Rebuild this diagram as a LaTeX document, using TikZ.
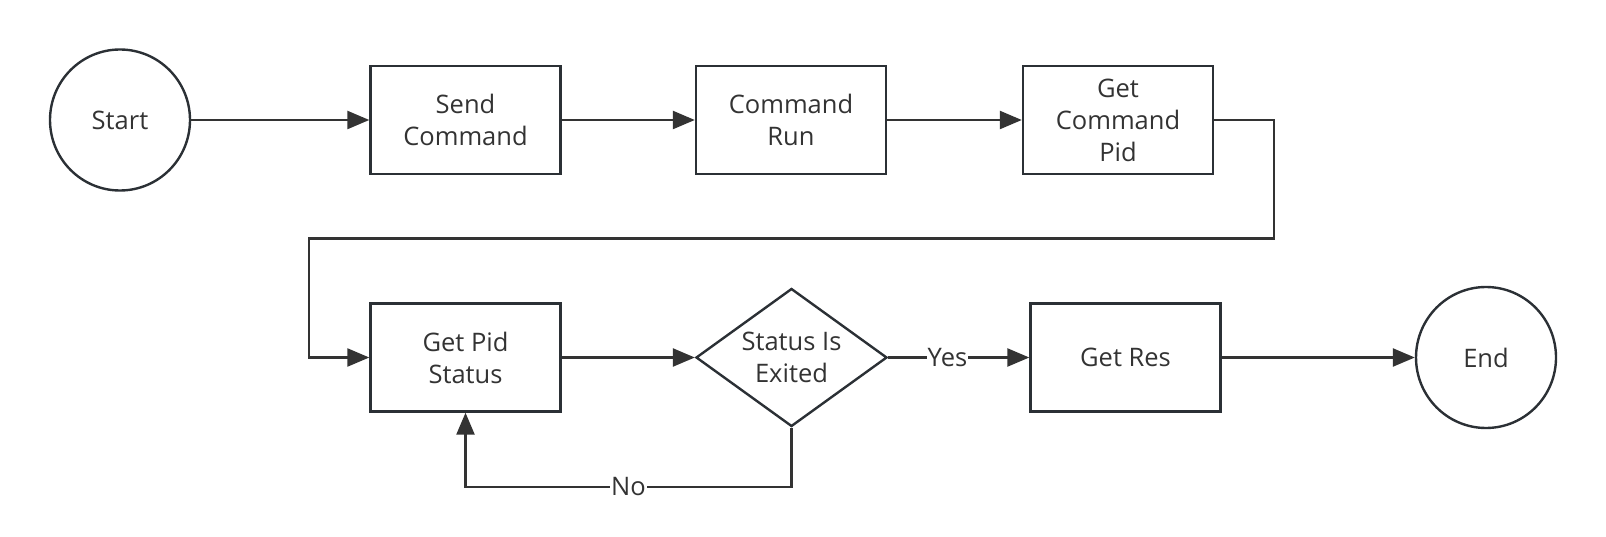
\documentclass[tikz,border=0pt]{standalone}
\usepackage{fontspec}
\setmainfont{Open Sans}
\usetikzlibrary{shapes.geometric,arrows.meta}
\definecolor{ln}{HTML}{333333}
\definecolor{bd}{HTML}{2B3035}
\begin{document}
\begin{tikzpicture}[x=1pt,y=-1pt,
  every node/.style={font=\fontsize{25.5}{32}\selectfont, text=ln},
  proc/.style={draw=bd, line width=2.4pt, minimum width=190pt, minimum height=108pt, align=center, inner sep=0pt},
  term/.style={draw=bd, line width=2.4pt, ellipse, minimum width=140pt, minimum height=141pt, inner sep=0pt},
  dec/.style={draw=bd, line width=2.4pt, diamond, shape aspect=1.384, minimum width=191pt, minimum height=138pt, inner sep=0pt, align=center},
  conn/.style={draw=ln, line width=2.4pt, -{Triangle[length=22pt,width=18pt]}},
  lbl/.style={fill=white, inner sep=1pt}]
\useasboundingbox (0,0) rectangle (1606,537);
\node[term] (start) at (120,120) {Start};
\node[proc] (send) at (465.5,120) {Send\\Command};
\node[proc] (run) at (791,120) {Command\\Run};
\node[proc] (gcp) at (1118,120) {Get\\Command\\Pid};
\node[proc] (gps) at (465.5,357.5) {Get Pid\\Status};
\node[dec] (dia) at (791.5,357.5) {Status Is\\Exited};
\node[proc] (res) at (1125.5,357.5) {Get Res};
\node[term] (end) at (1486,357.5) {End};
\coordinate (c1) at (1274,238.6);
\coordinate (c2) at (309,238.6);
\coordinate (c3) at (791.5,487);
\draw[conn] (start.east) -- (send.west);
\draw[conn] (send.east) -- (run.west);
\draw[conn] (run.east) -- (gcp.west);
\draw[conn] (gcp.east) -| (c1) -- (c2) |- (gps.west);
\draw[conn] (gps.east) -- (dia.west);
\draw[conn] (dia.east) -- node[lbl, pos=0.42] {Yes} (res.west);
\draw[conn] (res.east) -- (end.west);
\draw[conn] (dia.south) -- (c3) -| node[lbl, pos=0.25] {No} (gps.south);
\end{tikzpicture}
\end{document}
